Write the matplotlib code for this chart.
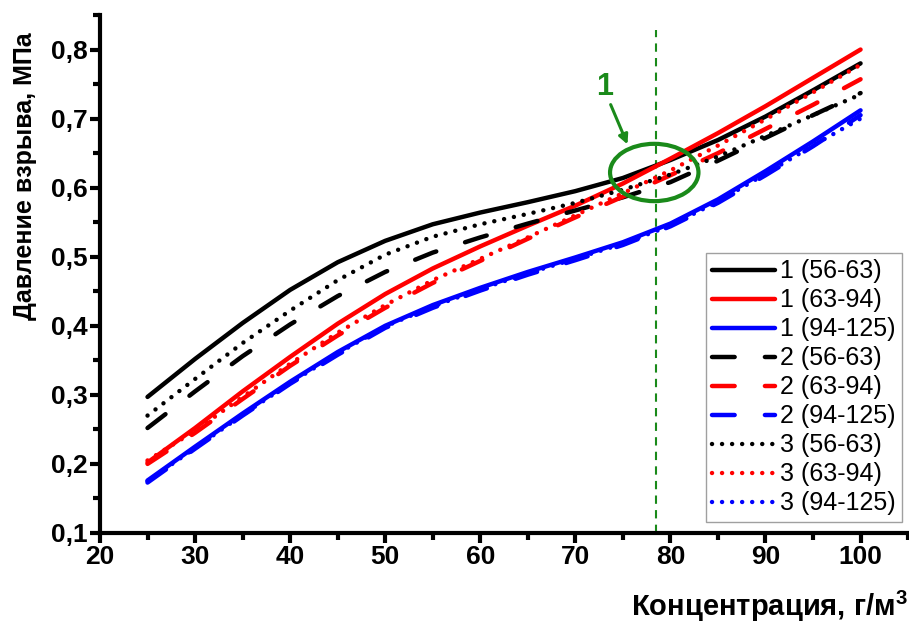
import numpy as np
import matplotlib
matplotlib.use('Agg')
import matplotlib.pyplot as plt
from matplotlib.patches import Ellipse
from matplotlib.ticker import MultipleLocator, FuncFormatter

plt.rcParams['font.family'] = ['Liberation Sans', 'DejaVu Sans']
plt.rcParams['mathtext.fontset'] = 'custom'
plt.rcParams['mathtext.rm'] = 'Liberation Sans:bold'
plt.rcParams['mathtext.bf'] = 'Liberation Sans:bold'

conc = [25, 30, 35, 40, 45, 50, 55, 60, 65, 70, 75, 80, 85, 90, 95, 100]

# series 1 (solid)
p1_56_63 = [0.297, 0.352, 0.404, 0.452, 0.492, 0.523, 0.547, 0.564, 0.579, 0.595, 0.614, 0.640, 0.669, 0.703, 0.741, 0.780]
p1_63_94 = [0.202, 0.252, 0.305, 0.355, 0.403, 0.446, 0.483, 0.515, 0.545, 0.574, 0.606, 0.642, 0.679, 0.718, 0.759, 0.800]
p1_94_125 = [0.176, 0.225, 0.273, 0.319, 0.362, 0.400, 0.430, 0.455, 0.478, 0.499, 0.521, 0.548, 0.583, 0.624, 0.667, 0.712]
# series 2 (dashed)
p2_56_63 = [0.252, 0.305, 0.356, 0.402, 0.443, 0.478, 0.506, 0.528, 0.548, 0.567, 0.586, 0.608, 0.639, 0.672, 0.705, 0.737]
p2_63_94 = [0.200, 0.245, 0.294, 0.342, 0.386, 0.426, 0.462, 0.494, 0.526, 0.557, 0.587, 0.618, 0.650, 0.685, 0.720, 0.757]
p2_94_125 = [0.173, 0.222, 0.270, 0.316, 0.358, 0.397, 0.426, 0.451, 0.474, 0.495, 0.517, 0.544, 0.578, 0.618, 0.660, 0.705]
# series 3 (dotted)
p3_56_63 = [0.270, 0.323, 0.375, 0.422, 0.466, 0.503, 0.529, 0.547, 0.562, 0.578, 0.597, 0.619, 0.645, 0.675, 0.705, 0.735]
p3_63_94 = [0.205, 0.248, 0.297, 0.345, 0.390, 0.430, 0.466, 0.497, 0.528, 0.560, 0.592, 0.625, 0.661, 0.699, 0.738, 0.778]
p3_94_125 = [0.175, 0.223, 0.271, 0.317, 0.360, 0.399, 0.428, 0.453, 0.476, 0.497, 0.519, 0.545, 0.580, 0.620, 0.661, 0.700]

fractions = ['56-63', '63-94', '94-125']
colors = ['black', 'red', 'blue']
series = [
    ('1', [p1_56_63, p1_63_94, p1_94_125]),
    ('2', [p2_56_63, p2_63_94, p2_94_125]),
    ('3', [p3_56_63, p3_63_94, p3_94_125]),
]
styles = {
    '1': dict(linestyle='-'),
    '2': dict(linestyle=(0, (5.1, 6.8)), dash_capstyle='round'),
    '3': dict(linestyle=(0, (0.01, 2.25)), dash_capstyle='round'),
}

fig = plt.figure(figsize=(9.09, 6.26), dpi=100)
ax = fig.add_axes([0.110, 0.1486, 0.889, 0.8274])

for num, data in series:
    for frac, col, vals in zip(fractions, colors, data):
        ax.plot(conc, vals, color=col, lw=3.2, label=f'{num} ({frac})',
                solid_capstyle='round', solid_joinstyle='round', **styles[num])

# marked region
green = '#1a8a1a'
ax.plot([78.5, 78.5], [0.1, 0.828], color=green, lw=1.5, linestyle=(0, (4, 3)), zorder=1)
ax.add_patch(Ellipse((78.3, 0.622), 9.3, 0.083, fill=False, edgecolor=green, lw=3.0, zorder=5))
ax.annotate('', xy=(75.6, 0.659), xytext=(73.6, 0.724),
            arrowprops=dict(arrowstyle='-|>', color=green, lw=2.2, mutation_scale=14))
ax.text(73.05, 0.746, '1', color=green, fontsize=22, fontweight='bold', ha='center', va='center')

ax.set_xlim(20, 105)
ax.set_ylim(0.1, 0.85)
ax.xaxis.set_major_locator(MultipleLocator(10))
ax.xaxis.set_minor_locator(MultipleLocator(5))
ax.yaxis.set_major_locator(MultipleLocator(0.1))
ax.yaxis.set_minor_locator(MultipleLocator(0.05))
ax.yaxis.set_major_formatter(FuncFormatter(lambda v, p: f'{v:.1f}'.replace('.', ',') if v < 0.85 else ''))
ax.xaxis.set_major_formatter(FuncFormatter(lambda v, p: f'{v:.0f}' if v <= 100 else ''))

for s in ['top', 'right']:
    ax.spines[s].set_visible(False)
for s in ['left', 'bottom']:
    ax.spines[s].set_linewidth(3)
ax.tick_params(which='major', direction='out', length=7, width=3, labelsize=19, pad=2)
ax.tick_params(which='minor', direction='out', length=5, width=3)
for lab in ax.get_xticklabels() + ax.get_yticklabels():
    lab.set_fontweight('bold')

ax.set_ylabel('Давление взрыва, МПа', fontsize=18, fontweight='bold')
ax.yaxis.set_label_coords(-0.078, 0.689)
ax.set_xlabel('Концентрация, г/м$^{3}$', fontsize=21, fontweight='bold', loc='right', labelpad=14)

leg = ax.legend(loc='upper left', bbox_to_anchor=(706 / 909, (626 - 253) / 626),
                bbox_transform=fig.transFigure, fontsize=18, frameon=True, fancybox=False,
                edgecolor='#888888', handlelength=2.5, handletextpad=0.2, labelspacing=0.2,
                borderpad=0.25, borderaxespad=0)
leg.get_frame().set_linewidth(1.0)

fig.savefig('out.png', dpi=100)
